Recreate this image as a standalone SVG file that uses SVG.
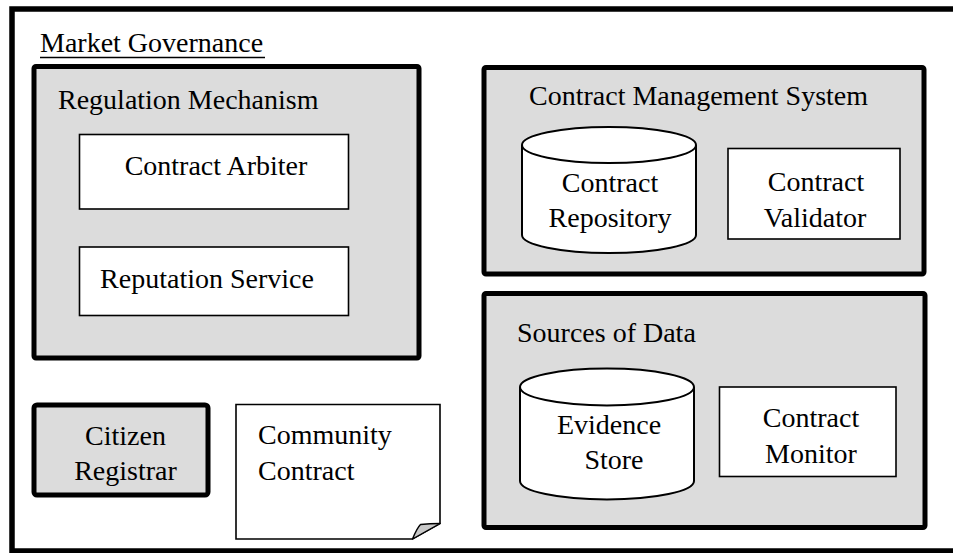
<svg xmlns="http://www.w3.org/2000/svg" width="953" height="553" viewBox="0 0 953 553">
<style>
.t{font-family:"Liberation Serif","Times New Roman",serif;font-size:28px;fill:#000}
.m{text-anchor:middle}
.grp{fill:#dcdcdc;stroke:#000;stroke-width:5}
.box{fill:#fff;stroke:#000;stroke-width:1.6}
.cyl{fill:#fff;stroke:#000;stroke-width:2}
</style>
<rect width="953" height="553" fill="#fff"/>
<g id="market-governance">
<rect x="12" y="9" width="960" height="542" fill="none" stroke="#000" stroke-width="5.5"/>
<text class="t" x="40" y="52">Market Governance</text>
<line x1="40" y1="57.5" x2="265" y2="57.5" stroke="#000" stroke-width="1.5"/>
</g>
<g id="regulation-mechanism">
<rect class="grp" x="34" y="66.5" width="385" height="291.5" rx="2"/>
<text class="t" x="58" y="109">Regulation Mechanism</text>
</g>
<g id="contract-arbiter">
<rect class="box" x="79.5" y="134.5" width="269" height="74.5"/>
<text class="t m" x="216" y="175">Contract Arbiter</text>
</g>
<g id="reputation-service">
<rect class="box" x="79.5" y="247" width="269" height="68.5"/>
<text class="t m" x="207" y="288">Reputation Service</text>
</g>
<g id="contract-management-system">
<rect class="grp" x="484" y="67.5" width="440" height="206.5" rx="2"/>
<text class="t" x="529" y="105">Contract Management System</text>
</g>
<g id="contract-repository">
<path class="cyl" d="M522,145 A87,18 0 0 1 696,145 V235 A87,18 0 0 1 522,235 Z"/>
<path class="cyl" fill="none" d="M522,145 A87,18 0 0 0 696,145"/>
<text class="t m" x="610" y="191.5">Contract</text>
<text class="t m" x="610" y="226.5">Repository</text>
</g>
<g id="contract-validator">
<rect class="box" x="728" y="148.5" width="172" height="90.5"/>
<text class="t m" x="816" y="191">Contract</text>
<text class="t m" x="815" y="226.5">Validator</text>
</g>
<g id="sources-of-data">
<rect class="grp" x="484" y="293.5" width="441" height="234" rx="2"/>
<text class="t" x="517" y="342">Sources of Data</text>
</g>
<g id="evidence-store">
<path class="cyl" d="M520,387 A87,18.5 0 0 1 694,387 V481 A87,18.5 0 0 1 520,481 Z"/>
<path class="cyl" fill="none" d="M520,387 A87,18.5 0 0 0 694,387"/>
<text class="t m" x="609" y="434">Evidence</text>
<text class="t m" x="614" y="468.5">Store</text>
</g>
<g id="contract-monitor">
<rect class="box" x="719.5" y="387" width="176.5" height="89.5"/>
<text class="t m" x="811" y="427">Contract</text>
<text class="t m" x="811" y="462.5">Monitor</text>
</g>
<g id="citizen-registrar">
<rect class="grp" x="34" y="405" width="174" height="90" rx="3"/>
<text class="t m" x="125.5" y="445">Citizen</text>
<text class="t m" x="125.5" y="479.5">Registrar</text>
</g>
<g id="community-contract">
<path d="M236,404.5 H440 V523.5 L412.5,539 H236 Z" fill="#fff" stroke="#000" stroke-width="1.6"/>
<path d="M412.5,539 Q417,528 420.5,524.5 Q430,523.5 440,523.5 Z" fill="#c8c8c8" stroke="#000" stroke-width="1.4" stroke-linejoin="round"/>
<text class="t" x="258" y="444">Community</text>
<text class="t" x="258" y="479.5">Contract</text>
</g>
<g id="connectors"></g>
</svg>
